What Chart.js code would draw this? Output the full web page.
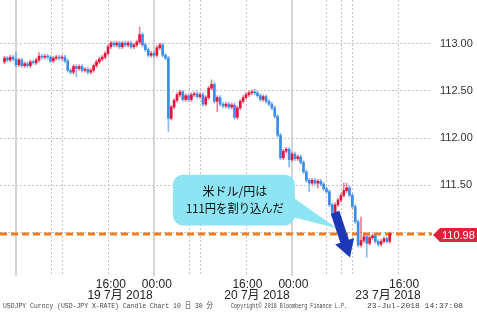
<!DOCTYPE html>
<html>
<head>
<meta charset="utf-8">
<script src="https://cdn.jsdelivr.net/npm/chart.js@4.4.0/dist/chart.umd.min.js"></script>
<style>
  html, body { margin: 0; padding: 0; background: #fff; }
</style>
</head>
<body>
<canvas id="fxChart" width="477" height="314"></canvas>
<script>
// USD/JPY 30分足, bar 0 = 19日 00:00 (weekend gap collapsed)
const firstBar = -4;

const opens = [
  112.81,112.85,112.83,112.86,112.84,112.78,112.83,112.77,112.79,112.77,
  112.81,112.80,112.83,112.87,112.86,112.87,112.86,112.82,112.85,112.86,
  112.85,112.86,112.82,112.72,112.70,112.76,112.74,112.76,112.72,112.73,
  112.70,112.72,112.77,112.81,112.84,112.86,112.90,112.97,113.01,112.99,
  113.01,112.97,113.01,112.99,113.01,112.97,112.99,113.02,113.10,112.99,
  112.94,112.88,112.90,112.88,112.96,112.99,112.88,112.85,112.21,112.33,
  112.40,112.46,112.49,112.41,112.45,112.41,112.46,112.47,112.44,112.46,
  112.36,112.43,112.53,112.57,112.39,112.43,112.36,112.34,112.36,112.33,
  112.35,112.22,112.32,112.39,112.43,112.46,112.48,112.49,112.48,112.45,
  112.41,112.44,112.39,112.36,112.32,112.23,112.03,111.79,111.86,111.88,
  111.77,111.83,111.78,111.80,111.74,111.64,111.55,111.52,111.55,111.52,
  111.54,111.51,111.46,111.43,111.29,111.21,111.29,111.34,111.39,111.44,
  111.47,111.39,111.27,111.11,110.86,110.91,110.95,110.88,110.94,110.96,
  110.90,110.87,110.90,110.93,110.90
];
const highs = [
  112.87,112.87,112.88,112.88,112.91,112.85,112.85,112.81,112.81,112.83,
  112.83,112.85,112.91,112.89,112.89,112.89,112.88,112.87,112.88,112.88,
  112.88,112.88,112.84,112.74,112.78,112.78,112.78,112.78,112.75,112.75,
  112.74,112.79,112.83,112.86,112.88,112.92,112.99,113.03,113.03,113.03,
  113.03,113.03,113.03,113.03,113.03,113.01,113.04,113.18,113.12,113.01,
  112.96,112.92,112.92,112.98,113.01,113.01,112.90,112.87,112.35,112.42,
  112.48,112.51,112.51,112.47,112.47,112.48,112.49,112.49,112.48,112.48,
  112.45,112.55,112.62,112.59,112.45,112.45,112.38,112.38,112.38,112.37,
  112.37,112.34,112.41,112.45,112.48,112.50,112.51,112.52,112.50,112.47,
  112.46,112.46,112.41,112.38,112.34,112.25,112.05,111.88,111.90,111.90,
  111.85,111.85,111.82,111.82,111.76,111.66,111.57,111.57,111.57,111.56,
  111.56,111.53,111.48,111.45,111.31,111.31,111.36,111.41,111.52,111.52,
  111.49,111.41,111.29,111.13,111.16,110.97,110.97,110.96,110.98,110.98,
  110.92,110.92,110.95,110.95,111.00
];
const lows = [
  112.79,112.81,112.81,112.82,112.76,112.76,112.75,112.75,112.75,112.75,
  112.78,112.78,112.81,112.84,112.84,112.84,112.80,112.80,112.83,112.83,
  112.83,112.80,112.70,112.68,112.68,112.65,112.72,112.70,112.70,112.68,
  112.68,112.70,112.75,112.79,112.82,112.84,112.88,112.95,112.97,112.97,
  112.95,112.95,112.97,112.97,112.95,112.95,112.97,113.00,112.97,112.92,
  112.86,112.86,112.86,112.86,112.94,112.86,112.83,112.07,112.19,112.31,
  112.38,112.44,112.39,112.39,112.39,112.39,112.44,112.42,112.42,112.34,
  112.34,112.41,112.51,112.37,112.28,112.34,112.32,112.32,112.31,112.31,
  112.20,112.20,112.30,112.37,112.41,112.44,112.46,112.46,112.43,112.39,
  112.39,112.37,112.34,112.30,112.21,112.01,111.77,111.77,111.84,111.69,
  111.75,111.76,111.76,111.72,111.62,111.53,111.43,111.50,111.50,111.47,
  111.49,111.44,111.41,111.27,111.18,111.19,111.27,111.32,111.37,111.42,
  111.37,111.25,111.09,110.84,110.84,110.89,110.73,110.86,110.92,110.88,
  110.85,110.85,110.88,110.88,110.88
];
const closes = [
  112.85,112.83,112.86,112.84,112.78,112.83,112.77,112.79,112.77,112.81,
  112.80,112.83,112.87,112.86,112.87,112.86,112.82,112.85,112.86,112.85,
  112.86,112.82,112.72,112.70,112.76,112.74,112.76,112.72,112.73,112.70,
  112.72,112.77,112.81,112.84,112.86,112.90,112.97,113.01,112.99,113.01,
  112.97,113.01,112.99,113.01,112.97,112.99,113.02,113.10,112.99,112.94,
  112.88,112.90,112.88,112.96,112.99,112.88,112.85,112.21,112.33,112.40,
  112.46,112.49,112.41,112.45,112.41,112.46,112.47,112.44,112.46,112.36,
  112.43,112.53,112.57,112.39,112.43,112.36,112.34,112.36,112.33,112.35,
  112.22,112.32,112.39,112.43,112.46,112.48,112.49,112.48,112.45,112.41,
  112.44,112.39,112.36,112.32,112.23,112.03,111.79,111.86,111.88,111.77,
  111.83,111.78,111.80,111.74,111.64,111.55,111.52,111.55,111.52,111.54,
  111.51,111.46,111.43,111.29,111.21,111.29,111.34,111.39,111.44,111.47,
  111.39,111.27,111.11,110.86,110.91,110.95,110.88,110.94,110.96,110.90,
  110.87,110.90,110.93,110.90,110.98
];

const yTicks = [111.0, 111.5, 112.0, 112.5, 113.0];
const dayLines = [0, 48, 96];                       // 00:00
const hourLines = [12, 16, 32, 60, 64, 80, 108, 113, 117, 133];
const timeLabels = ['16:00', '00:00', '16:00', '00:00', '16:00'];
const timeLabelPos = [33, 49, 80.5, 96.5, 135];
const dateLabels = ['19 7月 2018', '20 7月 2018', '23 7月 2018'];
const dateLabelPos = [36.2, 83.8, 129.4];
const calloutLines = ['米ドル/円は', '111円を割り込んだ'];
const footerLeft = 'USDJPY Curncy (USD-JPY X-RATE) Candle Chart 10 日 30 分';
const footerMid = 'Copyright© 2018 Bloomberg Finance L.P.';
const footerRight = '23-Jul-2018 14:37:08';

const UP = '#e2163c', DOWN = '#3a8de4';
const UP_WICK = 'rgba(226,22,60,0.55)', DOWN_WICK = 'rgba(58,141,228,0.6)';
const isUp = i => closes[i] >= opens[i];

const bodyData = closes.map((c, i) => ({ x: firstBar + i, y: [opens[i], c] }));
const wickData = highs.map((h, i) => ({ x: firstBar + i, y: [lows[i], h] }));

const overlay = {
  id: 'overlay',
  beforeDatasetsDraw(chart) {
    const { ctx, chartArea: a, scales: { x, y } } = chart;
    ctx.save();
    ctx.strokeStyle = '#c4c4c4';
    ctx.lineWidth = 1;
    ctx.setLineDash([2, 2]);
    hourLines.forEach(v => {
      const px = Math.round(x.getPixelForValue(v)) + 0.5;
      ctx.beginPath(); ctx.moveTo(px, a.top); ctx.lineTo(px, a.bottom); ctx.stroke();
    });
    ctx.setLineDash([]);
    ctx.strokeStyle = '#d4d4d4';
    ctx.lineWidth = 2;
    dayLines.forEach(v => {
      const px = Math.round(x.getPixelForValue(v));
      ctx.beginPath(); ctx.moveTo(px, a.top); ctx.lineTo(px, a.bottom); ctx.stroke();
    });
    // last price line
    const ly = y.getPixelForValue(closes[closes.length - 1]);
    ctx.strokeStyle = '#f27b1f';
    ctx.lineWidth = 3;
    ctx.setLineDash([7, 4]);
    ctx.beginPath(); ctx.moveTo(a.left, ly); ctx.lineTo(a.right, ly); ctx.stroke();
    ctx.restore();
  },
  afterDatasetsDraw(chart) {
    const { ctx, scales: { x, y } } = chart;
    ctx.save();
    // callout bubble
    const bx0 = x.getPixelForValue(54.6), bx1 = x.getPixelForValue(97);
    const by0 = y.getPixelForValue(111.61), by1 = y.getPixelForValue(111.07);
    ctx.fillStyle = '#8de4f2';
    ctx.beginPath();
    ctx.moveTo(bx1 - 6, y.getPixelForValue(111.40));
    ctx.lineTo(x.getPixelForValue(111.6), y.getPixelForValue(111.04));
    ctx.lineTo(bx1 - 6, y.getPixelForValue(111.17));
    ctx.closePath();
    ctx.fill();
    ctx.beginPath();
    ctx.roundRect(bx0, by0, bx1 - bx0, by1 - by0, 10);
    ctx.fill();
    ctx.fillStyle = '#111';
    ctx.font = '12px "Noto Sans CJK JP"';
    ctx.textAlign = 'center';
    ctx.textBaseline = 'middle';
    const cx = (bx0 + bx1) / 2 + 1;
    ctx.fillText(calloutLines[0], cx, by0 + 17);
    ctx.fillText(calloutLines[1], cx, by0 + 34, 98);
    // arrow
    const sx = x.getPixelForValue(110.96), sy = y.getPixelForValue(111.21);
    const ex = x.getPixelForValue(116.17), ey = y.getPixelForValue(110.73);
    const len = Math.hypot(ex - sx, ey - sy);
    const dx = (ex - sx) / len, dy = (ey - sy) / len;
    const nx = -dy, ny = dx;
    const hl = 17, sw = 4.5, hw = 10;
    const nkx = ex - dx * hl, nky = ey - dy * hl;
    ctx.fillStyle = '#1c38b8';
    ctx.beginPath();
    ctx.moveTo(sx + nx * sw, sy + ny * sw);
    ctx.lineTo(nkx + nx * sw, nky + ny * sw);
    ctx.lineTo(nkx + nx * hw, nky + ny * hw);
    ctx.lineTo(ex, ey);
    ctx.lineTo(nkx - nx * hw, nky - ny * hw);
    ctx.lineTo(nkx - nx * sw, nky - ny * sw);
    ctx.lineTo(sx - nx * sw, sy - ny * sw);
    ctx.closePath();
    ctx.fill();
    ctx.restore();
  },
  afterDraw(chart) {
    const { ctx, chartArea: a, scales: { x, y }, width } = chart;
    ctx.save();
    // last price tag
    const last = closes[closes.length - 1];
    const ly = Math.round(y.getPixelForValue(last)) + 1;
    ctx.fillStyle = '#e0223f';
    ctx.beginPath();
    ctx.moveTo(a.right + 1, ly);
    ctx.lineTo(a.right + 8, ly - 7);
    ctx.lineTo(width, ly - 7);
    ctx.lineTo(width, ly + 7);
    ctx.lineTo(a.right + 8, ly + 7);
    ctx.closePath();
    ctx.fill();
    ctx.fillStyle = '#fff';
    ctx.font = '11px "Liberation Sans"';
    ctx.textBaseline = 'middle';
    ctx.fillText(last.toFixed(2), a.right + 10, ly + 1);
    // x axis labels
    ctx.fillStyle = '#222';
    ctx.font = '12px "Liberation Sans", "Noto Sans CJK JP"';
    ctx.textAlign = 'center';
    timeLabels.forEach((t, i) => ctx.fillText(t, x.getPixelForValue(timeLabelPos[i]), a.bottom + 9));
    dateLabels.forEach((t, i) => ctx.fillText(t, x.getPixelForValue(dateLabelPos[i]), a.bottom + 20));
    // footer
    ctx.textAlign = 'left';
    ctx.fillStyle = '#444';
    ctx.font = '8px "Liberation Mono", "Noto Sans CJK JP"';
    ctx.fillText(footerLeft, 3, 306, 210);
    ctx.fillText(footerMid, 231, 306, 116);
    ctx.fillText(footerRight, 367, 306, 102);
    ctx.restore();
  }
};

new Chart(document.getElementById('fxChart'), {
  type: 'bar',
  data: {
    datasets: [
      {
        label: 'wick', data: wickData, order: 2, grouped: false,
        barThickness: 1, borderWidth: 0,
        backgroundColor: c => isUp(c.dataIndex) ? UP_WICK : DOWN_WICK
      },
      {
        label: 'body', data: bodyData, order: 1, grouped: false,
        barThickness: 2, minBarLength: 1, borderWidth: 0,
        backgroundColor: c => isUp(c.dataIndex) ? UP : DOWN
      }
    ]
  },
  options: {
    responsive: false,
    animation: false,
    layout: { padding: 0 },
    plugins: { legend: { display: false }, tooltip: { enabled: false } },
    scales: {
      x: {
        type: 'linear', min: -5.57, max: 144.7, offset: false,
        grid: { display: false }, border: { display: false },
        ticks: { display: false },
        afterFit: s => { s.height = 38; s.paddingLeft = 0; s.paddingRight = 0; }
      },
      y: {
        position: 'right', min: 110.532, max: 113.468,
        afterBuildTicks: s => { s.ticks = yTicks.map(v => ({ value: v })); },
        afterFit: s => { s.width = 45; s.paddingTop = 0; s.paddingBottom = 0; },
        grid: { color: '#c4c4c4', drawTicks: false },
        border: { display: false, dash: [2, 2] },
        ticks: {
          padding: 8, color: '#333',
          font: { family: 'Liberation Sans', size: 11 },
          callback: v => v === 111 ? '' : v.toFixed(2)
        }
      }
    }
  },
  plugins: [overlay]
});
</script>
</body>
</html>
